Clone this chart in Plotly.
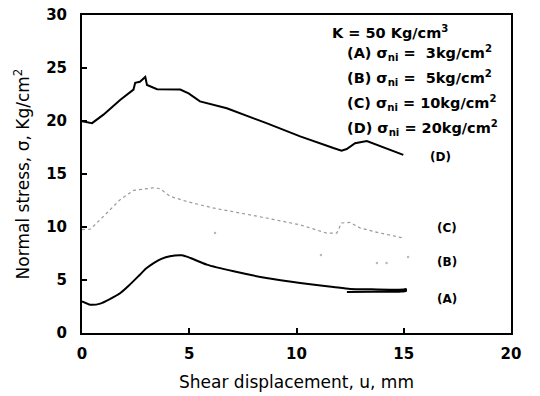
import plotly.graph_objects as go

# Curve (D): sigma_ni = 20 kg/cm2
d_u = [0.0, 0.47, 1.0, 1.79, 2.4, 2.48, 2.7, 2.95, 3.03, 3.5, 4.58, 4.97, 5.5, 6.75, 8.6, 10.17, 11.72, 12.1, 12.34, 12.73, 13.28, 13.9, 14.98]
d_s = [19.97, 19.8, 20.6, 22.0, 22.96, 23.6, 23.7, 24.15, 23.4, 23.0, 22.96, 22.6, 21.85, 21.2, 19.8, 18.55, 17.45, 17.2, 17.36, 17.9, 18.1, 17.6, 16.8]

# Curve (C): sigma_ni = 10 kg/cm2
c_u = [0.0, 0.39, 1.0, 1.79, 2.4, 3.34, 3.65, 4.1, 4.9, 6.1, 8.6, 10.17, 11.4, 11.88, 12.1, 12.5, 12.97, 13.9, 14.98]
c_s = [9.75, 9.8, 11.0, 12.6, 13.45, 13.7, 13.6, 12.9, 12.4, 11.8, 10.85, 10.2, 9.43, 9.43, 10.38, 10.44, 9.9, 9.43, 8.96]

# Curve (B): sigma_ni = 5 kg/cm2 (only scattered points legible)
b_u = [6.2, 11.14, 13.75, 14.2, 15.2]
b_s = [9.43, 7.36, 6.6, 6.6, 7.17]

# Curve (A): sigma_ni = 3 kg/cm2, including the unloading tail
a_u = [0.0, 0.39, 0.85, 1.3, 1.79, 2.2, 2.7, 3.0, 3.34, 3.7, 4.1, 4.66, 5.05, 5.82, 7.07, 8.6, 10.17, 11.72, 12.5, 13.5, 15.0, 15.1, 15.1, 14.8, 13.5, 12.35]
a_s = [2.99, 2.67, 2.77, 3.2, 3.77, 4.5, 5.5, 6.1, 6.6, 7.0, 7.25, 7.33, 7.08, 6.45, 5.82, 5.19, 4.72, 4.34, 4.15, 4.12, 4.1, 4.15, 3.95, 3.9, 3.88, 3.87]

x_ticks = [0, 5, 10, 15, 20]
y_ticks = [0, 5, 10, 15, 20, 25, 30]

curve_tags = ["(D)", "(C)", "(B)", "(A)"]
tag_u = [16.7, 17.0, 17.0, 17.0]
tag_s = [16.6, 9.9, 6.7, 3.2]

legend_lines = [
    "K = 50 Kg/cm<sup>3</sup>",
    "(A) σ<sub>ni</sub> =  3kg/cm<sup>2</sup>",
    "(B) σ<sub>ni</sub> =  5kg/cm<sup>2</sup>",
    "(C) σ<sub>ni</sub> = 10kg/cm<sup>2</sup>",
    "(D) σ<sub>ni</sub> = 20kg/cm<sup>2</sup>",
]

FONT = "DejaVu Sans"

fig = go.Figure()
fig.add_trace(go.Scatter(x=d_u, y=d_s, mode="lines", line=dict(color="black", width=2)))
fig.add_trace(go.Scatter(x=c_u, y=c_s, mode="lines", line=dict(color="#9a9a9a", width=1.2, dash="dot")))
fig.add_trace(go.Scatter(x=b_u, y=b_s, mode="markers", marker=dict(color="#b8b8b8", size=2.5)))
fig.add_trace(go.Scatter(x=a_u, y=a_s, mode="lines", line=dict(color="black", width=2, shape="spline", smoothing=0.6)))

for t, u, s in zip(curve_tags, tag_u, tag_s):
    fig.add_annotation(x=u, y=s, text="<b>" + t + "</b>", showarrow=False,
                       font=dict(family=FONT, size=12, color="black"))

# Parameter block in the upper right corner
fig.add_annotation(xref="paper", yref="paper", x=0.717, y=0.945, xanchor="center", yanchor="middle",
                   text="<b>" + legend_lines[0] + "</b>", showarrow=False,
                   font=dict(family=FONT, size=14.5, color="black"))
for i, line in enumerate(legend_lines[1:]):
    fig.add_annotation(xref="paper", yref="paper", x=0.613, y=0.88 - i * 0.0786,
                       xanchor="left", yanchor="middle",
                       text="<b>" + line + "</b>", showarrow=False,
                       font=dict(family=FONT, size=14.5, color="black"))

axis_common = dict(showline=True, linecolor="black", linewidth=2, mirror=True,
                   ticks="inside", ticklen=5, tickwidth=1.5, tickcolor="black",
                   showgrid=False, zeroline=False, automargin=False,
                   tickfont=dict(family=FONT, size=15, color="black"))

fig.update_xaxes(range=[0, 20], tickvals=x_ticks, ticktext=["<b>%d</b>" % v for v in x_ticks],
                 ticklabelstandoff=6,
                 title=dict(text="Shear displacement, u, mm", standoff=14,
                            font=dict(family=FONT, size=17, color="black")),
                 **axis_common)
fig.update_yaxes(range=[0, 30], tickvals=y_ticks, ticktext=["<b>%d</b>" % v for v in y_ticks],
                 ticklabelstandoff=10,
                 title=dict(text="Normal stress, σ, Kg/cm<sup>2</sup>", standoff=12,
                            font=dict(family=FONT, size=17, color="black")),
                 **axis_common)

fig.update_layout(width=540, height=396, showlegend=False,
                  margin=dict(l=82, r=29, t=15, b=63),
                  plot_bgcolor="white", paper_bgcolor="white")

fig.write_html("out.html")
